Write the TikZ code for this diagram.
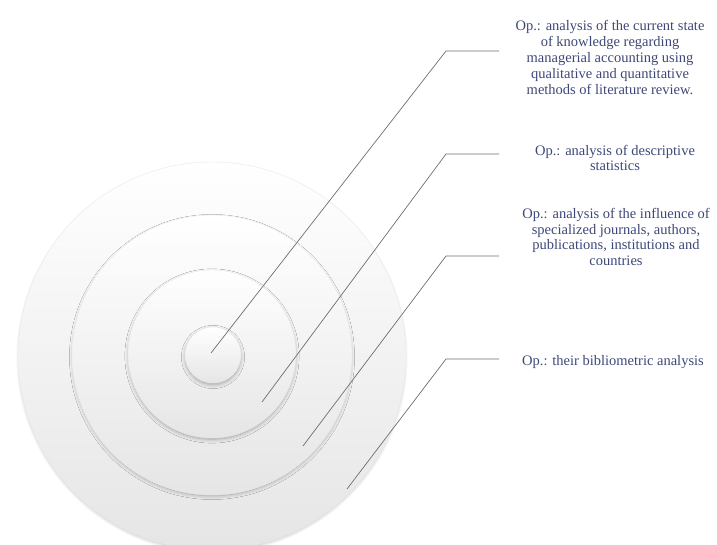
\documentclass[tikz,border=0pt]{standalone}
\usepackage{fontspec}
\setmainfont{Liberation Serif}
\usetikzlibrary{shadows.blur}
\definecolor{txt}{RGB}{62,72,120}
\definecolor{ln}{RGB}{110,110,110}
\tikzset{
  ring/.style={circle, inner sep=0pt, draw=black!9, line width=0.4pt,
    top color=white, middle color=white, bottom color=black!10,
    blur shadow={shadow xshift=0pt, shadow yshift=-2pt, shadow scale=0.99, shadow blur radius=4pt, shadow blur steps=8, shadow opacity=32}},
  lbl/.style={align=center, text=txt, inner sep=0pt, font=\fontsize{14.5}{15.9}\selectfont},
  conn/.style={draw=ln, line width=0.7pt}
}
\begin{document}
\begin{tikzpicture}[x=1pt,y=1pt]
\useasboundingbox (0,0) rectangle (717,-545);
\begin{scope}
\clip (0,0) rectangle (717,-545);
\node[ring, minimum size=388pt] (c4) at (212,-356) {};
\node[ring, minimum size=280pt] (c3) at (212,-355) {};
\node[ring, minimum size=168pt] (c2) at (212,-354) {};
\node[ring, minimum size=56pt] (c1) at (213,-355) {};
\end{scope}
\coordinate (e1) at (211,-353);
\coordinate (k1) at (446,-51);
\coordinate (h1) at (499,-51);
\coordinate (e2) at (262,-402);
\coordinate (k2) at (446,-154);
\coordinate (h2) at (499,-154);
\coordinate (e3) at (303,-446);
\coordinate (k3) at (446,-256);
\coordinate (h3) at (499,-256);
\coordinate (e4) at (347,-489);
\coordinate (k4) at (446,-359);
\coordinate (h4) at (499,-359);
\draw[conn] (e1) -- (k1) -- (h1);
\draw[conn] (e2) -- (k2) -- (h2);
\draw[conn] (e3) -- (k3) -- (h3);
\draw[conn] (e4) -- (k4) -- (h4);
\node[lbl] (t1) at (610,-57.5) {Op.: analysis of the current state\\of knowledge regarding\\managerial accounting using\\qualitative and quantitative\\methods of literature review.};
\node[lbl] (t2) at (615,-158) {Op.: analysis of descriptive\\statistics};
\node[lbl] (t3) at (616,-237) {Op.: analysis of the influence of\\specialized journals, authors,\\publications, institutions and\\countries};
\node[lbl] (t4) at (613,-362) {Op.: their bibliometric analysis};
\end{tikzpicture}
\end{document}
